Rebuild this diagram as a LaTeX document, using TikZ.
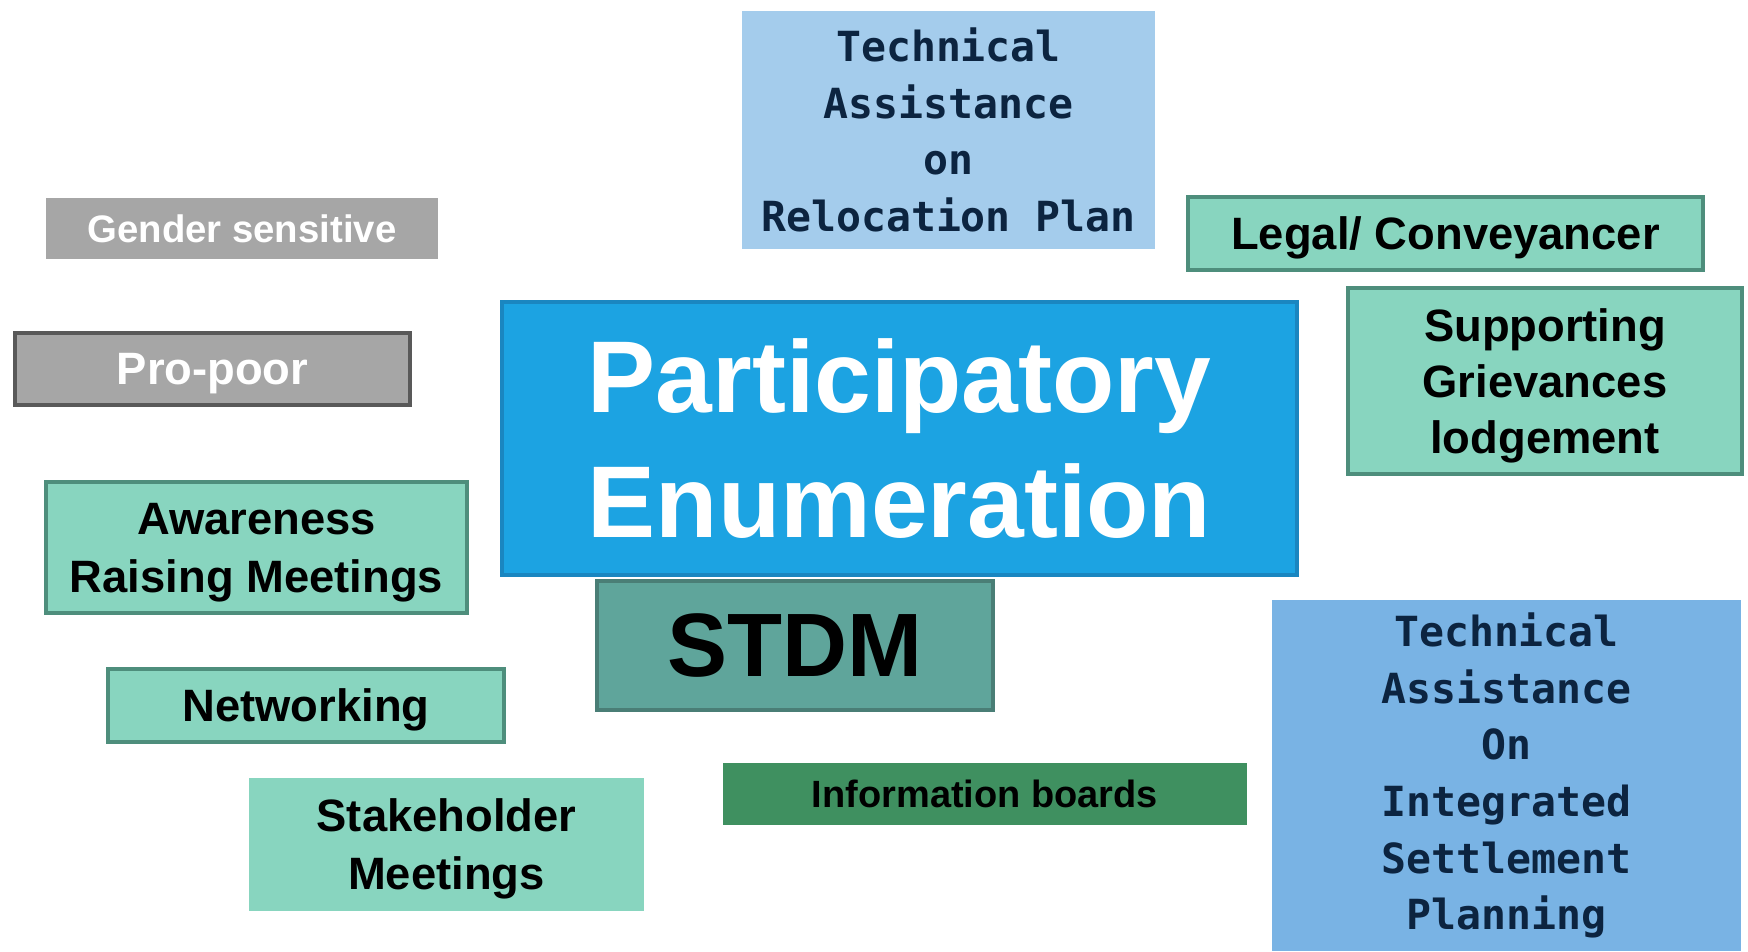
\documentclass[tikz,border=0pt]{standalone}
\usepackage{fontspec}
\setmainfont{Liberation Sans}
\newfontfamily\codefont{DejaVu Sans Mono}
\usepackage{xcolor}
\usepackage{tikz}
\definecolor{enumBlue}{HTML}{1CA3E2}
\definecolor{enumBlueEdge}{HTML}{1A86C0}
\definecolor{paleBlue}{HTML}{A4CCEC}
\definecolor{midBlue}{HTML}{79B3E4}
\definecolor{mintFill}{HTML}{88D5BF}
\definecolor{mintEdge}{HTML}{4E8E7C}
\definecolor{stdmFill}{HTML}{5FA59B}
\definecolor{stdmEdge}{HTML}{4A7E76}
\definecolor{boardFill}{HTML}{3F9060}
\definecolor{greyFill}{HTML}{A6A6A6}
\definecolor{navyText}{HTML}{0C2440}

\tikzset{
  tag/.style={inner sep=0pt, align=center, font=\bfseries\fontsize{12.9}{16.5}\selectfont},
  mintbox/.style={tag, text depth=0pt, fill=mintFill, draw=mintEdge, line width=1pt},
  greybox/.style={tag, text depth=0pt, fill=greyFill, text=white},
  techbox/.style={inner sep=0pt, align=center, text=navyText,
    font=\codefont\bfseries\fontsize{11.8}{16.1}\selectfont},
}

\begin{document}
\begin{tikzpicture}[x=0.01cm, y=-0.01cm, style={line join=miter}]
  \useasboundingbox (0,0) rectangle (1748,951);
  % central block
  \node[tag, fill=enumBlue, draw=enumBlueEdge, line width=1pt, text=white,
        minimum width=7.95cm, minimum height=2.73cm,
        font=\bfseries\fontsize{29}{35.6}\selectfont] (enum) at (899.5,438.5) {Participatory\\Enumeration};
  \node[tag, fill=stdmFill, draw=stdmEdge, line width=1pt,
        minimum width=3.96cm, minimum height=1.29cm,
        font=\bfseries\fontsize{25.6}{30}\selectfont] (stdm) at (795,645.5) {STDM};
  % blue technical boxes
  \node[techbox, fill=paleBlue, minimum width=4.13cm, minimum height=2.38cm] (reloc) at (948.5,130)
        {Technical\\Assistance\\on\\Relocation Plan};
  \node[techbox, fill=midBlue, minimum width=4.69cm, minimum height=3.51cm] (isp) at (1506.5,775.5)
        {Technical\\Assistance\\On\\Integrated\\Settlement\\Planning};
  % grey boxes
  \node[greybox, minimum width=3.92cm, minimum height=0.61cm,
        font=\bfseries\fontsize{10.9}{14}\selectfont] (gender) at (242,228.5) {Gender sensitive};
  \node[greybox, draw=black!65, line width=1pt,
        minimum width=3.95cm, minimum height=0.72cm] (propoor) at (212.5,369) {Pro-poor};
  % green boxes
  \node[mintbox, minimum width=5.15cm, minimum height=0.73cm] (legal) at (1445.5,233.5) {Legal/ Conveyancer};
  \node[mintbox, minimum width=3.94cm, minimum height=1.86cm, font=\bfseries\fontsize{12.9}{15.9}\selectfont]
        (grieve) at (1545,381) {Supporting\\Grievances\\lodgement};
  \node[mintbox, minimum width=4.21cm, minimum height=1.31cm] (aware) at (256.5,547.5) {Awareness\\Raising Meetings};
  \node[mintbox, minimum width=3.96cm, minimum height=0.73cm] (network) at (306,705.5) {Networking};
  \node[mintbox, draw=none, minimum width=3.95cm, minimum height=1.33cm] (stake) at (446.5,844.5) {Stakeholder\\Meetings};
  \node[tag, fill=boardFill, minimum width=5.24cm, minimum height=0.62cm,
        font=\bfseries\fontsize{10.8}{13}\selectfont] (boards) at (985,794) {Information boards};
\end{tikzpicture}
\end{document}
